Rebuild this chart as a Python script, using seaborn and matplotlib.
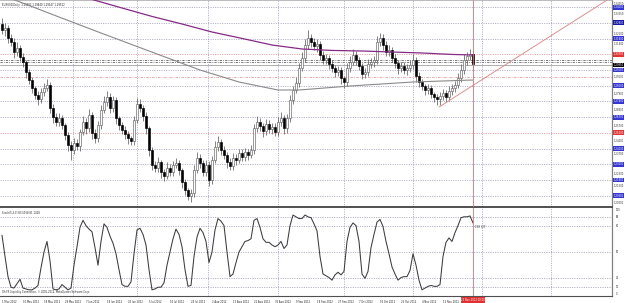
import numpy as np
import pandas as pd
import matplotlib
matplotlib.use("Agg")
import matplotlib.pyplot as plt
import matplotlib.transforms as mtransforms
import seaborn as sns

# ---------------- data ----------------
first_open = 1.3282
closes = [1.3240,1.3254,1.3184,1.3156,1.3086,1.3114,1.3051,1.3016,1.2946,1.2890,
          1.2834,1.2785,1.2757,1.2806,1.2834,1.2855,1.2694,1.2631,1.2596,1.2624,
          1.2575,1.2505,1.2435,1.2400,1.2449,1.2428,1.2526,1.2596,1.2554,1.2645,
          1.2519,1.2484,1.2575,1.2680,1.2736,1.2771,1.2694,1.2750,1.2624,1.2575,
          1.2540,1.2512,1.2484,1.2463,1.2610,1.2722,1.2694,1.2638,1.2554,1.2400,
          1.2295,1.2274,1.2316,1.2246,1.2218,1.2274,1.2246,1.2295,1.2309,1.2260,
          1.2176,1.2120,1.2078,1.2099,1.2260,1.2344,1.2309,1.2246,1.2295,1.2190,
          1.2330,1.2421,1.2456,1.2400,1.2365,1.2316,1.2288,1.2344,1.2330,1.2379,
          1.2351,1.2386,1.2365,1.2400,1.2554,1.2596,1.2568,1.2533,1.2582,1.2547,
          1.2561,1.2526,1.2596,1.2624,1.2554,1.2624,1.2750,1.2820,1.2869,1.2974,
          1.3044,1.3135,1.3184,1.3156,1.3128,1.3142,1.3065,1.3030,1.3044,1.3002,
          1.2974,1.2946,1.2960,1.2904,1.2876,1.2974,1.3016,1.3065,1.3030,1.2988,
          1.2932,1.2946,1.3002,1.3016,1.3030,1.3156,1.3184,1.3135,1.3086,1.3100,
          1.3044,1.3009,1.2974,1.2988,1.2960,1.2974,1.2995,1.3030,1.2918,1.2876,
          1.2848,1.2820,1.2834,1.2792,1.2771,1.2757,1.2778,1.2799,1.2771,1.2813,
          1.2834,1.2855,1.2904,1.2960,1.3030,1.3058,1.3072,1.3002]

upper_wick_pips = [40,35,20,25,30,45,20,25,15,20,
                   20,15,25,30,35,40,20,25,30,35,
                   20,15,20,25,35,30,20,40,25,45,
                   20,25,30,35,40,45,25,30,20,15,
                   20,25,20,15,30,40,35,20,25,15,
                   20,30,35,15,20,40,25,30,35,20,
                   15,20,15,25,35,40,30,20,35,25,
                   30,40,45,20,25,20,30,35,25,30,
                   25,30,20,35,30,40,25,20,35,30,
                   25,30,35,40,20,30,35,30,40,35,
                   40,45,56,30,25,35,20,30,25,20,
                   25,20,30,20,15,35,40,45,30,20,
                   20,30,35,25,30,40,35,30,25,35,
                   20,25,20,30,25,30,35,40,20,25,
                   20,15,25,20,15,20,25,30,20,35,
                   30,25,35,40,45,30,35,30]

lower_wick_pips = [25,40,35,30,40,25,30,35,40,30,
                   35,30,40,25,30,20,35,40,30,25,
                   30,35,40,70,30,25,35,20,40,25,
                   40,35,25,30,20,25,35,30,40,35,
                   30,35,40,30,25,20,30,35,40,45,
                   35,30,25,40,35,20,30,25,20,35,
                   40,35,30,42,25,20,35,30,25,40,
                   30,20,25,35,30,40,25,30,35,20,
                   25,30,35,20,25,30,35,40,25,30,
                   35,30,25,30,40,35,25,30,20,25,
                   20,25,30,35,30,40,35,25,30,35,
                   30,35,25,40,40,30,25,20,35,30,
                   35,30,25,30,35,25,30,35,30,25,
                   30,35,40,30,25,35,30,25,40,35,
                   30,35,25,30,35,40,40,30,35,25,
                   30,25,20,25,30,35,30,40]

stoch_k = [69,45,22,10,9,14,19,9,8,7,
           7,9,12,32,50,62,40,8,7,8,
           13,10,7,9,35,56,78,86,80,76,
           73,55,35,62,82,78,68,60,48,30,
           13,11,11,16,48,75,77,70,58,30,
           7,8,10,10,15,35,50,65,76,70,
           56,30,11,12,45,67,77,72,62,38,
           50,75,88,85,80,50,22,25,38,50,
           56,62,63,65,86,88,78,65,61,61,
           58,56,58,62,54,58,80,92,90,88,
           88,92,90,89,82,74,45,25,23,21,
           18,24,27,24,28,62,78,83,80,62,
           25,20,28,55,70,84,87,79,62,48,
           33,25,18,21,22,22,29,48,35,18,
           7,9,11,12,11,11,13,45,61,66,
           62,72,80,89,90,90,91,83]

ma_purple_bars = [20, 30, 40, 50, 60, 70, 80, 90, 100, 110, 120, 130, 140, 150, 157]
ma_purple_vals = [1.3513, 1.3454, 1.3394, 1.3335, 1.3282, 1.3226, 1.3181, 1.3135,
                  1.3107, 1.3097, 1.3093, 1.3086, 1.3079, 1.3069, 1.3065]
ma_gray_bars = [0, 6, 19, 33, 49, 66, 79, 92, 99, 116, 137, 157]
ma_gray_vals = [1.3485, 1.3436, 1.3331, 1.3219, 1.3093, 1.2960, 1.2876, 1.2820,
                1.2820, 1.2848, 1.2876, 1.2890]

trend_bars = [145.7, 201.7]
trend_prices = [1.2701, 1.3450]

grid_blue_levels = [1.3400, 1.3290, 1.3180, 1.2960, 1.2850, 1.2740, 1.2630,
                    1.2410, 1.2300, 1.2190, 1.2080]
red_dotted_levels = [1.3070, 1.2520]
dashdot_levels = [1.3030, 1.3016]
red_dashdot_level = 1.2911
bid_level = 1.2995
plain_levels = [1.3425, 1.3355, 1.3210, 1.3140, 1.2910, 1.2790, 1.2680, 1.2570,
                1.2460, 1.2370, 1.2230, 1.2150, 1.2030]
month_sep_bars = [23.5, 45, 68.5, 92, 114, 137, 160, 183]

date_labels = ["1 May 2012", "10 May 2012", "18 May 2012", "29 May 2012", "7 Jun 2012",
               "18 Jun 2012", "26 Jun 2012", "5 Jul 2012", "16 Jul 2012", "24 Jul 2012",
               "2 Aug 2012", "13 Aug 2012", "21 Aug 2012", "30 Aug 2012", "9 Sep 2012",
               "18 Sep 2012", "27 Sep 2012", "7 Oct 2012", "16 Oct 2012", "25 Oct 2012",
               "4 Nov 2012", "13 Nov 2012"]
date_label_bars = list(range(0, 148, 7))
current_bar = 157
current_bar_label = "23 Nov 2012 00:00"
stoch_levels = [90, 80, 50, 20, 10]
stoch_axis_labels = [100, 90, 80, 50, 20, 10, 0]

# ---------------- figure ----------------
sns.set_style("white")
plt.rcParams['font.family'] = ['DejaVu Sans']

FS = 1.85
W, H = 625, 303
fig = plt.figure(figsize=(W / 100, H / 100), dpi=100)
fig.patch.set_facecolor("white")
ax = fig.add_axes([0, 1 - 207 / H, 612 / W, 207 / H])
ax2 = fig.add_axes([0, 1 - 296 / H, 612 / W, 88 / H])

xlim = (-0.667, 203.33)
ax.set_xlim(*xlim)
ax.set_ylim(1.2001, 1.3450)
ax2.set_xlim(*xlim)
ax2.set_ylim(0, 100)

grid_col = "#9a9abb"
dot = (0, (1.2, 1.6))

# horizontal grid
for lv in grid_blue_levels:
    ax.axhline(lv, color=grid_col, lw=0.6, ls=dot, zorder=1)
for lv in red_dotted_levels:
    ax.axhline(lv, color="#e08a8a", lw=0.6, ls=dot, zorder=1)
for lv in dashdot_levels:
    ax.axhline(lv, color="#555555", lw=0.55, ls=(0, (3, 1.5, 1, 1.5)), zorder=1)
ax.axhline(red_dashdot_level, color="#e0a0a0", lw=0.6, ls=(0, (3, 1.5, 1, 1.5)), zorder=1)
ax.axhline(bid_level, color="#a0a0a0", lw=0.6, zorder=1)
for b in month_sep_bars:
    ax.axvline(b, color=grid_col, lw=0.6, ls=dot, zorder=1)
    ax2.axvline(b, color=grid_col, lw=0.6, ls=dot, zorder=1)
for lv in stoch_levels:
    ax2.axhline(lv, color=grid_col, lw=0.6, ls=dot, zorder=1)

# candles
n = len(closes)
xb = np.arange(n)
c = np.array(closes)
o = np.array([first_open] + closes[:-1])
hi = np.maximum(o, c) + np.array(upper_wick_pips) * 1e-4
lo = np.minimum(o, c) - np.array(lower_wick_pips) * 1e-4
ax.vlines(xb, lo, hi, color="#505050", lw=0.5, zorder=3)
bull = c >= o
body = np.maximum(np.abs(c - o), 0.0002)
ax.bar(xb[bull], body[bull], bottom=o[bull], width=0.62, color="white",
       edgecolor="#606060", linewidth=0.45, zorder=4)
ax.bar(xb[~bull], body[~bull], bottom=c[~bull], width=0.62, color="black",
       edgecolor="black", linewidth=0.45, zorder=4)

# moving averages
sns.lineplot(x=ma_purple_bars, y=ma_purple_vals, ax=ax, color="#862a86", lw=0.9,
             estimator=None, zorder=5)
sns.lineplot(x=ma_gray_bars, y=ma_gray_vals, ax=ax, color="#8a8a8a", lw=0.8,
             estimator=None, zorder=5)
# trend line
ax.plot(trend_bars, trend_prices, color="#dd9090", lw=0.7, zorder=5, clip_on=True)

# current bar vertical line
ax.axvline(current_bar, color="#e07070", lw=0.6, zorder=6)
ax2.axvline(current_bar, color="#e07070", lw=0.6, zorder=6)

# stochastic
sns.lineplot(x=xb, y=stoch_k, ax=ax2, color="#3c3c3c", lw=0.75, estimator=None, zorder=5)

# spines / ticks
for a in (ax, ax2):
    a.set_facecolor("white")
    a.set_xlabel("")
    a.set_ylabel("")
    a.spines["left"].set_visible(False)
    a.spines["right"].set_color("#808080")
    a.spines["right"].set_linewidth(0.9)
ax.spines["top"].set_color("#b0b0b0")
ax.spines["top"].set_linewidth(0.6)
ax.spines["bottom"].set_color("#202020")
ax.spines["bottom"].set_linewidth(1.1)
ax2.spines["top"].set_visible(False)
ax2.spines["bottom"].set_color("#505050")
ax2.spines["bottom"].set_linewidth(0.8)
ax.set_xticks([])
ax.set_yticks([])
ax2.set_yticks([])
ax2.set_xticks(date_label_bars)
ax2.set_xticklabels(date_labels)
ax2.tick_params(axis="x", length=2.2, width=0.4, pad=0.4, labelsize=FS,
                color="#404040", labelcolor="#202020", direction="out")
for lbl in ax2.get_xticklabels():
    lbl.set_ha("left")

# right price axis labels
tr = mtransforms.blended_transform_factory(ax.transAxes, ax.transData)
def price_box(v, fc, tc="white"):
    ax.text(1.0025, v, f"{v:.5f}", transform=tr, fontsize=FS, color=tc, va="center",
            ha="left", clip_on=False,
            bbox=dict(boxstyle="square,pad=0.15", fc=fc, ec="none"))
for i, lv in enumerate(grid_blue_levels):
    price_box(lv, "#1a1aa8" if i == 1 else "#3535d0")
for lv in red_dotted_levels:
    price_box(lv, "#e03535")
price_box(bid_level, "#000000")
for lv in plain_levels:
    ax.text(1.0025, lv, f"{lv:.5f}", transform=tr, fontsize=FS, color="#303030",
            va="center", ha="left", clip_on=False)

tr2 = mtransforms.blended_transform_factory(ax2.transAxes, ax2.transData)
for v in stoch_axis_labels:
    va = "top" if v == 100 else ("bottom" if v == 0 else "center")
    ax2.text(1.006, v, str(v), transform=tr2, fontsize=FS, color="#303030",
             va=va, ha="left", clip_on=False)

# texts
ax.text(0.003, 0.985, "EURUSD,Daily  1.29682 1.29840 1.29347 1.29522",
        transform=ax.transAxes, fontsize=FS, color="#202020", va="top", ha="left")
ax2.text(0.003, 0.97, "Stoch(5,3,3) 83.5918 81.1418", transform=ax2.transAxes,
         fontsize=FS, color="#202020", va="top", ha="left")
ax2.text(0.003, 0.02, "Oh FX Liquidity Connection, \u00a9 2001-2012, MetaQuotes Software Corp.",
         transform=ax2.transAxes, fontsize=FS, color="#202020", va="bottom", ha="left")
ax2.text(current_bar + 0.8, stoch_k[-1] - 4, "158 | 27", fontsize=FS,
         color="#303030", va="center", ha="left")

trb = mtransforms.blended_transform_factory(ax2.transData, ax2.transAxes)
ax2.text(current_bar, -0.045, current_bar_label, transform=trb, fontsize=FS,
         color="white", va="center", ha="center", clip_on=False,
         bbox=dict(boxstyle="square,pad=0.25", fc="#e03030", ec="none"))

fig.savefig("out.png", dpi=100)
